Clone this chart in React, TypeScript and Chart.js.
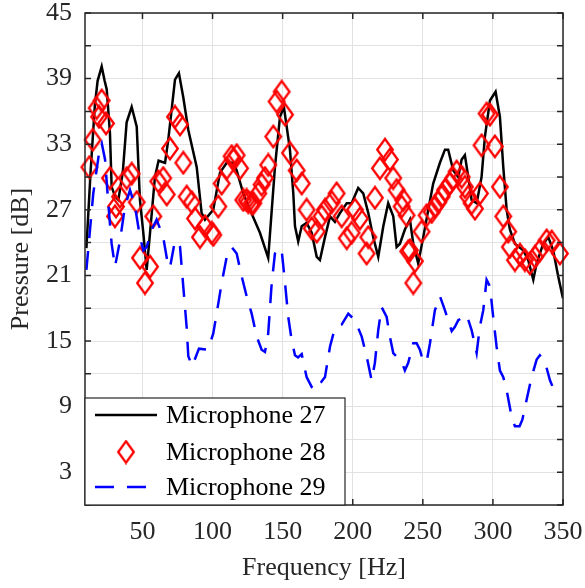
import React, { useEffect, useRef } from 'react';
import { Chart, registerables } from 'chart.js';

Chart.register(...registerables);

// ---- data ----
const freq27 = [10, 13, 16, 18, 20.9, 23, 24.5, 26.8, 28, 30.5, 32.8, 36, 38.7, 42.3, 45.9, 48.2, 50.6, 53, 55.4, 58.9, 61.5, 63.7, 66.1, 68.4, 73.2, 76, 79.1, 82.7, 88.7, 92.2, 94.6, 100.5, 105.3, 110.1, 114.8, 117.2, 121.9, 126.7, 133.8, 139.7, 144.5, 148.1, 150.9, 155.2, 157.6, 158.8, 161.1, 163.6, 167.1, 170.7, 174.3, 176.6, 180.2, 183.8, 187.3, 190.9, 195.7, 199.2, 203.9, 207.5, 211.1, 214.6, 218.2, 221.8, 225.3, 228.9, 231.3, 233.7, 237.2, 240.8, 243.2, 246.7, 250.3, 253.9, 257.4, 262.2, 265.8, 268.1, 271.7, 275.3, 277.7, 280, 282.4, 284.8, 288.4, 291.9, 294.3, 297.9, 301.9, 305, 307.4, 309.8, 312.1, 315.7, 321.6, 325.2, 328.8, 331.2, 335.9, 339.5, 343, 346.6, 350];
const mic27 = [23.5, 30.5, 36.5, 38.8, 40.1, 38.8, 38.0, 34.0, 29.1, 28.2, 27.9, 30.5, 35.0, 36.4, 34.6, 27.9, 24.9, 21.5, 24.9, 30.0, 31.5, 31.4, 31.3, 33.4, 38.9, 39.5, 37.3, 34.3, 30.9, 26.7, 26.1, 27.0, 30.4, 31.3, 31.3, 30.6, 28.5, 27.0, 24.9, 22.6, 30.9, 35.5, 36.4, 32.5, 28.5, 25.5, 24.1, 25.5, 25.8, 24.9, 22.7, 22.4, 24.5, 26.4, 25.9, 26.7, 27.6, 27.6, 29.0, 28.5, 26.7, 24.5, 22.7, 25.5, 27.6, 26.4, 23.6, 23.9, 25.2, 26.1, 23.9, 22.1, 24.5, 27.0, 29.4, 31.3, 32.5, 32.5, 30.6, 30.0, 31.6, 32.0, 30.0, 27.9, 27.6, 30.0, 33.7, 37.0, 37.8, 35.5, 30.9, 27.0, 25.2, 23.9, 23.3, 22.4, 20.6, 22.1, 23.9, 24.5, 23.3, 20.9, 18.9];

const freq28 = [12.1, 14.5, 17.3, 19, 20.9, 24, 26.8, 30.4, 31.1, 34, 38.7, 42.3, 45.9, 48.2, 51.8, 55.4, 57.7, 61.3, 64.8, 67.3, 69.6, 73.2, 76.8, 79.1, 81.5, 85.1, 87.5, 91, 94.6, 99.4, 100.5, 104.1, 106.5, 110.1, 113.6, 114.8, 117.2, 119.6, 121.9, 124.3, 125.5, 127.9, 129.1, 132.6, 135, 137.4, 139.7, 143.3, 145.7, 149.3, 151.7, 155.2, 160, 163.6, 167.1, 170.7, 174.3, 177.8, 180.2, 185, 188.5, 192.1, 195.7, 199.2, 201.6, 205.1, 209.9, 211.1, 215.8, 219.4, 223, 226.5, 228.9, 231.3, 234.9, 236, 238.4, 239.6, 240.8, 243.2, 244.4, 249.1, 252.7, 256.3, 258.6, 261, 263.4, 265.8, 269.3, 271.7, 274.1, 277.7, 280, 282.4, 284.8, 287.2, 290.7, 291.9, 295.5, 297.9, 301.4, 305, 307.4, 310.9, 312.1, 315.7, 319.3, 322.8, 326.4, 330, 333.5, 338.3, 341.9, 347.8];
const mic28 = [30.9, 33.4, 36.3, 35.5, 37.0, 34.9, 29.9, 26.4, 27.3, 28.2, 29.9, 30.3, 27.7, 22.6, 20.3, 21.8, 26.4, 29.6, 29.9, 28.4, 32.6, 35.5, 34.8, 31.3, 28.2, 27.7, 26.2, 24.5, 25.5, 24.9, 24.7, 27.3, 29.4, 30.8, 31.9, 31.6, 32.0, 30.8, 27.9, 27.9, 27.7, 27.6, 27.6, 28.5, 29.3, 29.9, 31.1, 33.7, 36.9, 37.8, 35.7, 32.2, 30.6, 29.4, 27.0, 25.3, 25.0, 26.4, 27.0, 27.7, 28.5, 26.4, 24.4, 24.9, 27.0, 26.2, 23.0, 24.5, 28.1, 30.8, 32.5, 31.6, 29.9, 28.8, 27.3, 27.9, 26.5, 23.2, 23.3, 20.3, 22.3, 25.0, 26.5, 26.8, 27.3, 27.7, 28.2, 28.8, 29.4, 29.9, 30.5, 30.0, 29.1, 28.2, 27.6, 27.1, 28.5, 32.9, 35.8, 35.7, 32.8, 29.1, 26.4, 25.0, 23.6, 22.4, 22.9, 22.4, 22.1, 22.7, 23.3, 24.2, 24.1, 23.0];

const freq29 = [10, 14.9, 19.7, 20.9, 23.3, 25.6, 28, 30.4, 34, 37.5, 41.1, 44.7, 48.2, 50.6, 53, 56.6, 60.1, 64.8, 68.4, 69.6, 73.2, 75.5, 76.8, 79.1, 81.5, 82.7, 85.5, 90.3, 96.9, 100.5, 102.9, 106.5, 110.1, 113.6, 117.2, 120.8, 124.3, 127.9, 131.5, 135, 137.4, 139.7, 142.2, 144.5, 146.2, 149.3, 151.7, 154, 156.4, 158.8, 161, 163.6, 167.1, 170.7, 173.1, 177.8, 180.2, 183.8, 187.3, 192.1, 196.8, 201.6, 206.4, 209.9, 213.5, 215.8, 218.2, 220.6, 224.2, 226.5, 228.9, 234.9, 237.2, 239.6, 243.2, 245.6, 247.9, 250.3, 252.7, 255.1, 258.6, 262.2, 265.8, 270.6, 272.9, 275.3, 281.3, 284.8, 288.4, 290.7, 293.1, 295.5, 297.9, 300.2, 302.6, 305, 307.4, 309.8, 313.3, 315.7, 319, 321, 324, 327.6, 331.2, 333.5, 337.1, 340.7, 343, 345.4];
const mic29 = [21.5, 28.5, 32.8, 33.1, 31.6, 27.6, 23.9, 21.8, 24.2, 27.3, 28.8, 27.3, 24.5, 23.3, 23.6, 25.2, 26.1, 24.5, 21.8, 21.7, 24.2, 23.9, 23.6, 20.0, 16.3, 13.6, 12.7, 14.3, 14.2, 15.7, 17.5, 20.3, 22.7, 23.6, 23.0, 20.9, 19.1, 17.5, 15.4, 14.2, 14.0, 15.7, 20.3, 23.0, 23.5, 23.3, 20.3, 17.2, 15.1, 13.7, 13.5, 13.8, 11.7, 10.8, 10.5, 11.3, 11.7, 14.5, 16.2, 16.5, 17.5, 16.9, 15.4, 13.6, 11.4, 13.0, 16.0, 18.1, 17.2, 15.4, 13.9, 13.1, 12.3, 13.0, 14.8, 14.8, 14.2, 13.1, 13.1, 14.8, 17.8, 19.1, 17.8, 15.9, 16.3, 16.9, 17.4, 16.0, 13.9, 16.3, 17.8, 20.6, 20.0, 17.2, 14.5, 12.3, 11.7, 10.5, 8.1, 7.2, 7.2, 7.8, 9.6, 11.7, 13.3, 13.7, 13.1, 11.4, 10.7, 10.5];

const xTicks = [50, 100, 150, 200, 250, 300, 350];
const yTicks = [0, 3, 6, 9, 12, 15, 18, 21, 24, 27, 30, 33, 36, 39, 42, 45];
const yLabeled = [3, 9, 15, 21, 27, 33, 39, 45];
const seriesNames = ['Microphone 27', 'Microphone 28', 'Microphone 29'];
const xTitle = 'Frequency [Hz]';
const yTitle = 'Pressure [dB]';

const FONT = "'Liberation Serif', 'Times New Roman', serif";
const DASH = [19, 13];

function makeDiamond(): HTMLCanvasElement {
  const c = document.createElement('canvas');
  c.width = 20;
  c.height = 25;
  const g = c.getContext('2d')!;
  g.strokeStyle = '#ff0000';
  g.lineWidth = 2.3;
  g.beginPath();
  g.moveTo(10, 1.8);
  g.lineTo(17.8, 12.5);
  g.lineTo(10, 23.2);
  g.lineTo(2.2, 12.5);
  g.closePath();
  g.stroke();
  return c;
}

export default function App() {
  const ref = useRef<HTMLCanvasElement | null>(null);

  useEffect(() => {
    if (!ref.current) return;
    const diamond = makeDiamond();

    const framePlugin = {
      id: 'frame',
      afterDatasetsDraw(chart: any) {
        const { ctx, chartArea, scales } = chart;
        const { left, right, top, bottom } = chartArea;
        ctx.save();
        ctx.strokeStyle = '#262626';
        ctx.lineWidth = 1.5;
        ctx.strokeRect(left, top, right - left, bottom - top);
        const tl = 6;
        ctx.beginPath();
        xTicks.forEach((v) => {
          const px = scales.x.getPixelForValue(v);
          ctx.moveTo(px, bottom);
          ctx.lineTo(px, bottom - tl);
          ctx.moveTo(px, top);
          ctx.lineTo(px, top + tl);
        });
        yTicks.forEach((v) => {
          const py = scales.y.getPixelForValue(v);
          ctx.moveTo(left, py);
          ctx.lineTo(left + tl, py);
          ctx.moveTo(right, py);
          ctx.lineTo(right - tl, py);
        });
        ctx.stroke();
        ctx.restore();
      },
      afterDraw(chart: any) {
        const { ctx, chartArea } = chart;
        const { left, bottom } = chartArea;
        const bx = left;
        const by = 398;
        const bw = 345 - left;
        const bh = bottom - by;
        ctx.save();
        ctx.fillStyle = '#ffffff';
        ctx.fillRect(bx, by, bw, bh);
        ctx.strokeStyle = '#262626';
        ctx.lineWidth = 1.2;
        ctx.strokeRect(bx, by, bw, bh);
        const rows = [415, 452, 487];
        const x0 = 95;
        const x1 = 157;
        ctx.strokeStyle = '#000000';
        ctx.lineWidth = 2.5;
        ctx.beginPath();
        ctx.moveTo(x0, rows[0]);
        ctx.lineTo(x1, rows[0]);
        ctx.stroke();
        ctx.drawImage(diamond, (x0 + x1) / 2 - diamond.width / 2, rows[1] - diamond.height / 2);
        ctx.strokeStyle = '#0000ff';
        ctx.lineWidth = 2.5;
        ctx.setLineDash(DASH);
        ctx.beginPath();
        ctx.moveTo(x0, rows[2]);
        ctx.lineTo(x1, rows[2]);
        ctx.stroke();
        ctx.setLineDash([]);
        ctx.fillStyle = '#000000';
        ctx.font = `26px ${FONT}`;
        ctx.textAlign = 'left';
        ctx.textBaseline = 'middle';
        seriesNames.forEach((n, i) => ctx.fillText(n, 166, rows[i] + 1));
        ctx.restore();
      },
    };

    const chart = new Chart(ref.current, {
      type: 'line',
      data: {
        datasets: [
          {
            label: seriesNames[0],
            data: freq27.map((f, i) => ({ x: f, y: mic27[i] })),
            borderColor: '#000000',
            borderWidth: 2.5,
            pointRadius: 0,
            tension: 0,
            fill: false,
            order: 3,
          },
          {
            label: seriesNames[1],
            data: freq28.map((f, i) => ({ x: f, y: mic28[i] })),
            showLine: false,
            pointStyle: diamond as any,
            pointRadius: 10,
            borderColor: '#ff0000',
            backgroundColor: 'rgba(0,0,0,0)',
            order: 2,
            clip: false as any,
          },
          {
            label: seriesNames[2],
            data: freq29.map((f, i) => ({ x: f, y: mic29[i] })),
            borderColor: '#0000ff',
            borderWidth: 2.5,
            borderDash: DASH,
            pointRadius: 0,
            tension: 0,
            fill: false,
            order: 1,
          },
        ],
      },
      options: {
        animation: false,
        responsive: false,
        events: [],
        layout: { padding: { top: 13, right: 22, left: 0, bottom: 0 } },
        plugins: {
          legend: { display: false },
          tooltip: { enabled: false },
        },
        scales: {
          x: {
            type: 'linear',
            min: 9,
            max: 350,
            afterBuildTicks: (s: any) => {
              s.ticks = xTicks.map((v) => ({ value: v }));
            },
            afterFit: (s: any) => {
              s.height = 83;
              s.paddingLeft = 0;
              s.paddingRight = 0;
              s.paddingTop = 0;
              s.paddingBottom = 0;
            },
            grid: { color: '#e2e2e2', lineWidth: 1, drawTicks: false },
            border: { display: false },
            ticks: {
              autoSkip: false,
              maxRotation: 0,
              padding: 14,
              color: '#262626',
              font: { family: FONT, size: 26, lineHeight: 1 },
            },
            title: {
              display: true,
              text: xTitle,
              color: '#262626',
              font: { family: FONT, size: 26, lineHeight: 1.2 },
              padding: { top: 4, bottom: 4 },
            },
          },
          y: {
            type: 'linear',
            min: 0,
            max: 45,
            afterBuildTicks: (s: any) => {
              s.ticks = yTicks.map((v) => ({ value: v }));
            },
            afterFit: (s: any) => {
              s.width = 85;
              s.paddingLeft = 0;
              s.paddingRight = 0;
              s.paddingTop = 0;
              s.paddingBottom = 0;
            },
            grid: { color: '#e2e2e2', lineWidth: 1, drawTicks: false },
            border: { display: false },
            ticks: {
              autoSkip: false,
              padding: 13,
              color: '#262626',
              font: { family: FONT, size: 26, lineHeight: 1 },
              callback: (v: any) => (yLabeled.includes(Number(v)) ? String(v) : ''),
            },
            title: {
              display: true,
              text: yTitle,
              color: '#262626',
              font: { family: FONT, size: 26, lineHeight: 1.2 },
              padding: { top: 6, bottom: 0 },
            },
          },
        },
      },
      plugins: [framePlugin],
    });

    return () => chart.destroy();
  }, []);

  return (
    <div style={{ position: 'fixed', left: 0, top: 0, width: 585, height: 588, background: '#ffffff' }}>
      <canvas ref={ref} width={585} height={588} style={{ display: 'block' }} />
    </div>
  );
}
